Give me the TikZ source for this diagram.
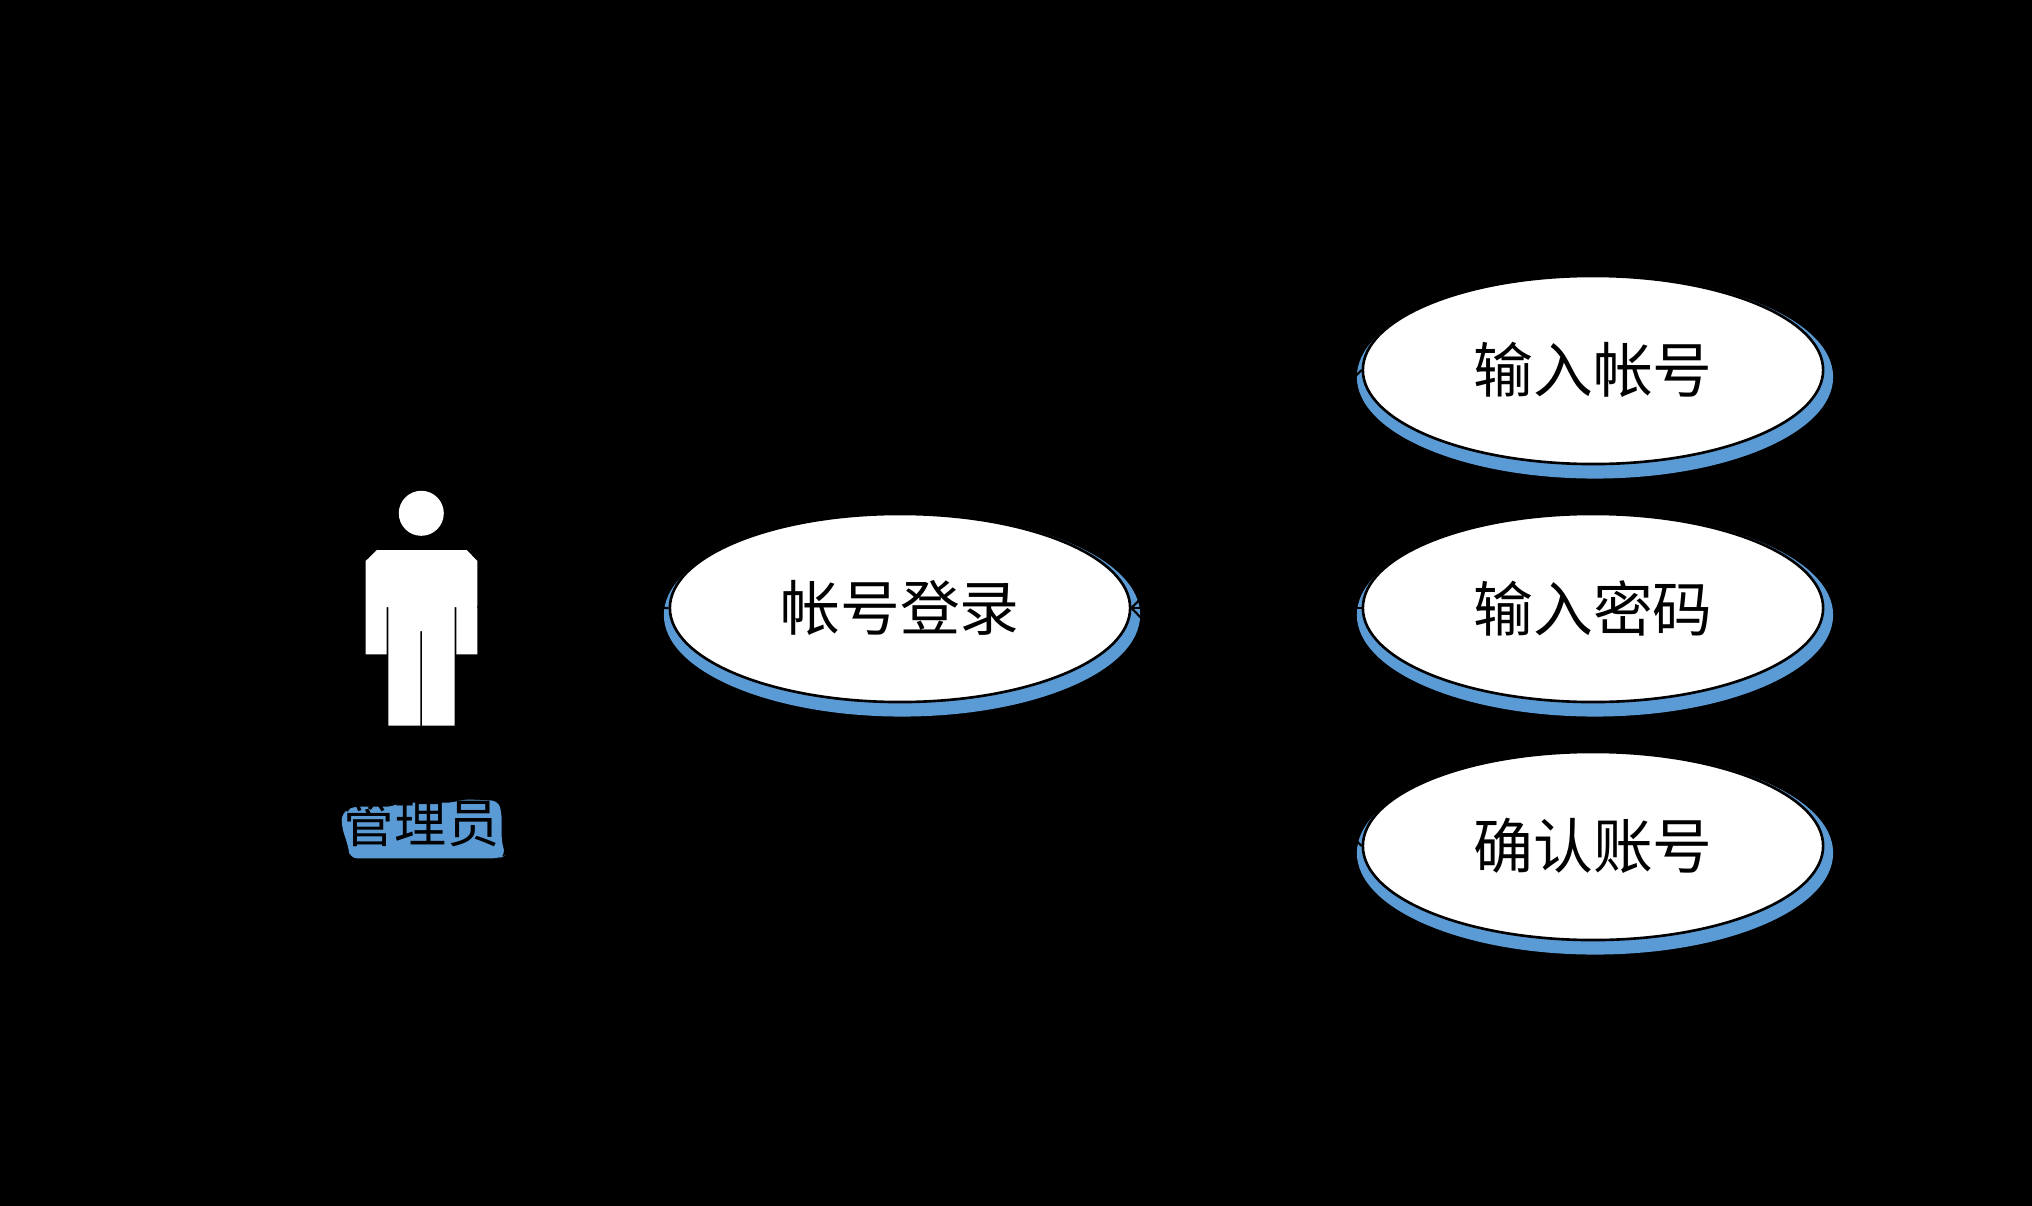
\documentclass[tikz,border=0pt]{standalone}
\usepackage{fontspec}
\setmainfont{Noto Sans CJK SC}
\usepackage{tikz}
\usetikzlibrary{shapes.geometric}
\definecolor{shadowblue}{HTML}{5B9BD5}
\tikzset{
    usecase/.style={ellipse, draw=black, line width=0.75pt, fill=white, inner sep=0pt,
        minimum width=4.6cm, minimum height=1.88cm, font=\fontsize{17pt}{20pt}\selectfont},
    usecaseback/.style={ellipse, fill=shadowblue, inner sep=0pt,
        minimum width=4.76cm, minimum height=2.03cm},
    link/.style={draw=black, line width=0.6pt},
    actorpart/.style={fill=white}
}

\begin{document}
\begin{tikzpicture}[x=0.01cm, y=-0.01cm]
            \useasboundingbox (0, 0) rectangle (2032, 1206);
            \fill[black] (0, 0) rectangle (2032, 1206);

            % actor
            \node[circle, actorpart, inner sep=0pt, minimum size=0.45cm] (head) at (421.3, 513.3) {};
            \fill[actorpart] (377, 550) -- (466.7, 550) -- (477.3, 561) -- (477.3, 654.3) -- (456.3, 654.3)
                -- (456.3, 607) -- (454.7, 607) -- (454.7, 725.7) -- (422, 725.7) -- (422, 631)
                -- (420.3, 631) -- (420.3, 725.7) -- (388.3, 725.7) -- (388.3, 607) -- (386.7, 607)
                -- (386.7, 654.3) -- (365.7, 654.3) -- (365.7, 561) -- cycle;
            \coordinate (actor) at (477.3, 607);

            \fill[shadowblue, rounded corners=2pt] (341.7, 813.3) -- (351.7, 806.7) -- (393.3, 806.7) -- (400, 802.7)
                -- (453.3, 802.7) -- (463.3, 799.3) -- (498.3, 800.7) -- (501.7, 813.3) -- (501.7, 843.3)
                -- (505.7, 855) -- (500, 858.3) -- (350, 858.3) -- (348.3, 846.7) -- (341.7, 826.7) -- cycle;
            \node[font=\fontsize{14.8pt}{17pt}\selectfont, inner sep=0pt] (admin) at (421, 823) {管理员};

            \node[usecaseback] (loginback) at (902, 615) {};
            \node[usecaseback] (inputidback) at (1595, 377) {};
            \node[usecaseback] (inputpwback) at (1595, 615) {};
            \node[usecaseback] (confirmback) at (1595, 853) {};

            \node[usecase] (login) at (900, 608) {帐号登录};
            \node[usecase] (inputid) at (1593, 370) {输入帐号};
            \node[usecase] (inputpw) at (1593, 608) {输入密码};
            \node[usecase] (confirm) at (1593, 846) {确认账号};

            \draw[link] (actor) -- (login.west);
            \draw[link] (login.east) -- (inputid.west);
            \draw[link] (login.east) -- (inputpw.west);
            \draw[link] (login.east) -- (confirm.west);
        \end{tikzpicture}
\end{document}
